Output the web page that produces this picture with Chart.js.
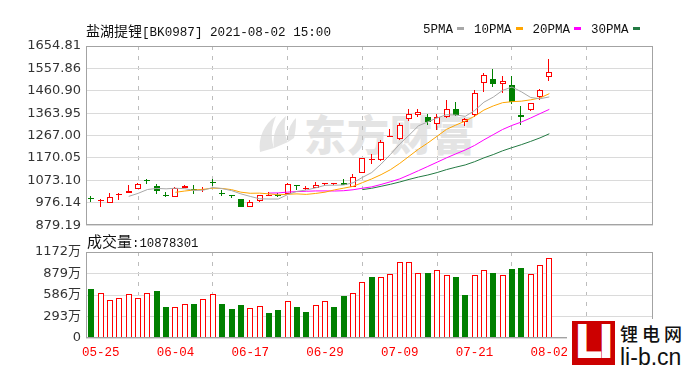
<!DOCTYPE html>
<html><head><meta charset="utf-8">
<script src="https://cdn.jsdelivr.net/npm/chart.js@4.4.0/dist/chart.umd.min.js"></script>
<style>
html,body{margin:0;padding:0;background:#fff;width:687px;height:368px;overflow:hidden;position:relative;}
.abs{position:absolute;white-space:nowrap;}
.box{position:absolute;left:0;width:687px;z-index:1;}
#pbox{top:0;height:238px;}
#vbox{top:236px;height:132px;}
.cjk{font-family:"Noto Sans CJK SC",sans-serif;}
.mono{font-family:"Liberation Mono",monospace;}
#wmtext{left:304px;top:108px;font-family:"Noto Sans CJK SC";font-weight:900;font-size:42px;line-height:50px;color:#e4e4e4;z-index:0;letter-spacing:1px;}
#wmicon{left:254px;top:112px;z-index:0;}
#title{left:86px;top:21px;line-height:18px;color:#111;z-index:2;}
#legend{left:423px;top:21px;line-height:18px;color:#111;z-index:2;}
#legend .it{display:inline-block;margin-right:10px;}
#legend .dash{display:inline-block;width:7px;height:3px;margin-left:4px;vertical-align:middle;position:relative;top:-1px;}
#vtitle{left:87px;top:231px;line-height:20px;color:#111;z-index:2;}
#logo{left:567px;top:319px;width:120px;height:49px;background:#fff;z-index:3;}
#lbox{position:absolute;left:5px;top:2px;width:43px;height:44px;background:#cc0000;overflow:hidden;}
#ltext{position:absolute;left:2px;top:-9px;font-family:"DejaVu Sans";font-weight:bold;font-size:47px;line-height:60px;color:#fff;letter-spacing:-5px;transform:scaleX(0.95);transform-origin:left top;}
#lcn{position:absolute;left:53px;top:3px;font-family:"Noto Sans CJK SC";font-size:18px;line-height:22px;letter-spacing:4px;color:#111;font-weight:500;}
#lurl{position:absolute;left:53px;top:25px;font-family:"Liberation Sans";font-size:23px;line-height:26px;color:#111;}
</style></head><body>
<svg id="wmicon" class="abs" width="44" height="44" viewBox="0 0 44 44">
  <path d="M6 40 C4 26 10 12 22 4 C18 14 16 24 20 36 Z" fill="#e4e4e4"/>
  <path d="M20 36 C18 24 22 12 32 4 C30 14 30 22 34 30 Z" fill="#e4e4e4"/>
  <path d="M34 30 C33 20 36 12 42 6 C42 16 41 22 40 26 Z" fill="#e4e4e4"/>
</svg>
<div id="wmtext" class="abs">东方财富</div>
<div id="pbox" class="box"><canvas id="pc"></canvas></div>
<div id="vbox" class="box"><canvas id="vc"></canvas></div>
<div id="title" class="abs"><span class="cjk" style="font-size:14px">盐湖提锂</span><span class="mono" style="font-size:12.6px">[BK0987] 2021-08-02 15:00</span></div>
<div id="legend" class="abs mono" style="font-size:12.5px"></div>
<div id="vtitle" class="abs"><span class="cjk" style="font-size:15px">成交量</span><span class="mono" style="font-size:12.3px">:10878301</span></div>
<div id="logo" class="abs">
  <div id="lbox"><div id="ltext">LI</div></div>
  <div id="lcn">锂电网</div>
  <div id="lurl">li-b.cn</div>
</div>
<script>
const dates = ['05-24','05-25','05-26','05-27','05-28','05-31','06-01','06-02','06-03','06-04',
 '06-07','06-08','06-09','06-10','06-11','06-15','06-16','06-17','06-18','06-21',
 '06-22','06-23','06-24','06-25','06-28','06-29','06-30','07-01','07-02','07-05',
 '07-06','07-07','07-08','07-09','07-12','07-13','07-14','07-15','07-16','07-19',
 '07-20','07-21','07-22','07-23','07-26','07-27','07-28','07-29','07-30','08-02'];
const opens  = [995,982,977,1009,1020,1035,1072,1050,1007,1002,1042,1036,1031,1065,1018,1008,992,959,984,1006,
 1008,1016,1053,1037,1040,1056,1056,1060,1045,1105,1163,1160,1260,1254,1339,1354,1349,1318,1347,1383,
 1325,1354,1494,1512,1491,1488,1358,1378,1433,1522];
const highs  = [1007,994,1019,1020,1054,1064,1081,1058,1024,1046,1052,1055,1043,1078,1030,1012,994,990,1011,1024,
 1017,1062,1054,1048,1066,1062,1061,1080,1099,1172,1188,1250,1296,1321,1383,1383,1361,1361,1419,1414,
 1342,1465,1537,1555,1526,1526,1393,1409,1467,1599];
const lows   = [979,959,976,990,1019,1034,1056,1016,1003,1001,1041,1016,1021,1047,1005,996,958,958,980,1005,
 1000,1015,1030,1030,1039,1050,1054,1054,1043,1104,1145,1158,1259,1250,1332,1348,1311,1290,1342,1353,
 1310,1347,1455,1478,1450,1404,1311,1375,1419,1502];
const closes = [992,986,1003,1013,1026,1057,1069,1027,1004,1039,1047,1031,1034,1061,1014,1005,960,979,1010,1008,
 1005,1056,1049,1040,1054,1060,1058,1055,1087,1170,1166,1241,1264,1313,1361,1368,1326,1349,1383,1355,
 1339,1450,1531,1492,1502,1412,1347,1407,1465,1541];
const ma5 = [null,null,null,null,1004,1017,1033.6,1038.4,1036.6,1039.2,1037.2,1029.6,1031,1042.4,1037.4,1029,1014.8,1003.8,993.6,992.4,
 992.4,1011.6,1025.6,1031.6,1040.8,1051.8,1052.2,1053.4,1062.8,1086,1107.2,1143.8,1185.6,1230.8,1269,1309.4,1326.4,1343.4,1357.4,1356.2,
 1350.4,1375.2,1411.6,1433.4,1462.8,1477.4,1456.8,1432,1426.6,1434.4];
const ma10 = [null,null,null,null,null,null,null,null,null,1021.6,1027.1,1031.6,1034.7,1039.5,1038.3,1033.1,1022.2,1017.4,1018,1014.9,
 1010.7,1013.2,1014.7,1012.6,1016.6,1022.1,1031.9,1039.5,1047.2,1063.4,1079.5,1098,1119.5,1146.8,1177.5,1208.3,1235.1,1264.5,1294.1,1312.6,
 1329.9,1350.8,1377.5,1395.4,1409.5,1413.9,1416,1421.8,1430,1448.6];
const ma20 = [null,null,null,null,null,null,null,null,null,null,null,null,null,null,null,null,null,null,null,1018.3,
 1018.9,1022.4,1024.7,1026.1,1027.5,1027.6,1027.1,1028.5,1032.6,1039.2,1045.1,1055.6,1067.1,1079.7,1097.1,1115.2,1133.5,1152,1170.7,1188,
 1204.7,1224.4,1248.5,1271.1,1293.5,1311.1,1325.6,1343.2,1362.1,1380.6];
const ma30 = [null,null,null,null,null,null,null,null,null,null,null,null,null,null,null,null,null,null,null,null,
 null,null,null,null,null,null,null,null,null,1033.3,1039.1,1047.6,1056.3,1066.3,1077.5,1087.8,1096.4,1107.1,1119.8,1130.3,
 1140,1154,1170.6,1184.9,1201.2,1214.8,1227.7,1241.9,1257.1,1274.9];
// volume in 万
const volumes = [666,615,516,543,593,543,611,639,424,424,461,461,525,593,461,392,443,410,438,342,
 379,511,429,361,443,511,429,566,615,766,834,834,871,1039,1039,889,889,922,853,834,
 580,853,922,889,853,939,957,871,990,1088];
const volUp = [0,1,1,1,1,1,1,0,0,1,1,0,1,1,0,0,0,1,1,0,
 0,1,0,0,1,1,0,0,1,1,0,1,1,1,1,1,0,1,1,0,
 0,1,1,0,1,0,0,1,1,1];
const maNames = ['5PMA','10PMA','20PMA','30PMA'];
const maColors = ['#a8a8a8','#ffa500','#ff00ff','#237a43'];
const priceTicks = [879.19,976.14,1073.10,1170.05,1267.00,1363.95,1460.90,1557.86,1654.81];
const volTicks = [0,293,586,879,1172];
const xTickLabels = ['05-25','06-04','06-17','06-29','07-09','07-21','08-02'];

const RED = '#ff0000', GREEN = '#008000';

// legend
const lg = document.getElementById('legend');
maNames.forEach((n,i)=>{
  const s = document.createElement('span'); s.className='it';
  s.innerHTML = n + '<span class="dash" style="background:'+maColors[i]+'"></span>';
  lg.appendChild(s);
});

Chart.defaults.animation = false;
const framePlugin = {id:'frame', afterDatasetsDraw(chart){
  const {ctx, chartArea:a} = chart; ctx.save();
  ctx.strokeStyle = '#a3a3a3'; ctx.lineWidth = 1;
  ctx.strokeRect(Math.round(a.left)+0.5, Math.round(a.top)+0.5, Math.round(a.right-a.left)-1, Math.round(a.bottom-a.top)-1);
  ctx.restore();
}};
// pixel-snap bar elements so thin borders stay crisp
const snapPlugin = {id:'snap', afterDatasetsUpdate(chart){
  chart.data.datasets.forEach((ds,di)=>{
    const meta = chart.getDatasetMeta(di);
    if (meta.type !== 'bar') return;
    const thin = ds.barThickness === 1;
    meta.data.forEach(el=>{
      el.x = thin ? Math.round(el.x) - 0.5 : Math.round(el.x);
      let top = Math.round(el.y), base = Math.round(el.base);
      if (Math.abs(top - base) < 1) base = top + 1;
      el.y = top; el.base = base;
    });
  });
}};

function xScale(show){
  return {
    type:'linear', min:-0.57, max:60.09, offset:false,
    afterBuildTicks: s => { s.ticks = xTickLabels.map(l => ({value: dates.indexOf(l)})); },
    ticks:{display:show, autoSkip:false, maxRotation:0, minRotation:0, color:RED,
      font:{family:'Liberation Mono', size:12.5}, padding:7, callback: v => dates[v]},
    grid:{color:'#bdbdbd', lineWidth:1, drawTicks:false},
    border:{display:false, dash:[4,6]},
    afterFit: s => { s.height = show ? 30 : 10; }
  };
}

const isUp = i => closes[i] >= opens[i];
const bodyData = dates.map((d,i)=>({x:i, y:[Math.min(opens[i],closes[i]), Math.max(opens[i],closes[i])]}));
const wickData = dates.map((d,i)=>({x:i, y:[lows[i], highs[i]]}));
const maSets = [ma5,ma10,ma20,ma30].map((arr,k)=>({
  type:'line', label:maNames[k],
  data: arr.map((v,i)=>({x:i,y:v})).filter(p=>p.y!==null),
  borderColor: maColors[k], borderWidth:1, pointRadius:0, tension:0, order:k, fill:false
}));

new Chart(document.getElementById('pc'), {
  type:'bar',
  data:{datasets:[
    ...maSets,
    {type:'bar', label:'K', data: bodyData, grouped:false, barThickness:6, minBarLength:1,
      backgroundColor: bodyData.map((d,i)=> isUp(i) ? '#ffffff' : GREEN),
      borderColor: bodyData.map((d,i)=> isUp(i) ? RED : GREEN),
      borderWidth:1, borderSkipped:false, inflateAmount:0, order:10},
    {type:'bar', label:'wick', data: wickData, grouped:false, barThickness:1,
      backgroundColor: wickData.map((d,i)=> isUp(i) ? RED : GREEN), borderWidth:0, inflateAmount:0, order:11}
  ]},
  options:{
    responsive:true, maintainAspectRatio:false, animation:false,
    layout:{padding:{top:46, right:34, bottom:0, left:0}},
    plugins:{legend:{display:false}, tooltip:{enabled:false}},
    scales:{
      x: xScale(false),
      y: {type:'linear', min:879.19, max:1654.81,
        afterBuildTicks: s => { s.ticks = priceTicks.map(v=>({value:v})); },
        ticks:{callback: v => Number(v).toFixed(2), color:'#333', font:{family:'DejaVu Sans', size:13}, padding:5},
        grid:{color:'#dadada', drawTicks:false}, border:{display:false},
        afterFit: s => { s.width = 86; }
      }
    }
  },
  plugins:[snapPlugin, framePlugin]
});

const volData = volumes.map((v,i)=>({x:i, y:v}));
new Chart(document.getElementById('vc'), {
  type:'bar',
  data:{datasets:[
    {label:'成交量', data: volData, grouped:false, barThickness:6,
      backgroundColor: volData.map((d,i)=> volUp[i] ? '#ffffff' : GREEN),
      borderColor: volData.map((d,i)=> volUp[i] ? RED : GREEN),
      borderWidth:1, borderSkipped:false, inflateAmount:0}
  ]},
  options:{
    responsive:true, maintainAspectRatio:false, animation:false,
    layout:{padding:{top:16, right:34, bottom:0, left:0}},
    plugins:{legend:{display:false}, tooltip:{enabled:false}},
    scales:{
      x: xScale(true),
      y: {type:'linear', min:0, max:1172,
        afterBuildTicks: s => { s.ticks = volTicks.map(v=>({value:v})); },
        ticks:{callback: v => v === 0 ? '0' : v + '万', color:'#333', font:{family:"'DejaVu Sans','Noto Sans CJK SC'", size:13}, padding:5},
        grid:{color:'#dadada', drawTicks:false}, border:{display:false},
        afterFit: s => { s.width = 86; }
      }
    }
  },
  plugins:[snapPlugin, framePlugin]
});
</script>
</body></html>
